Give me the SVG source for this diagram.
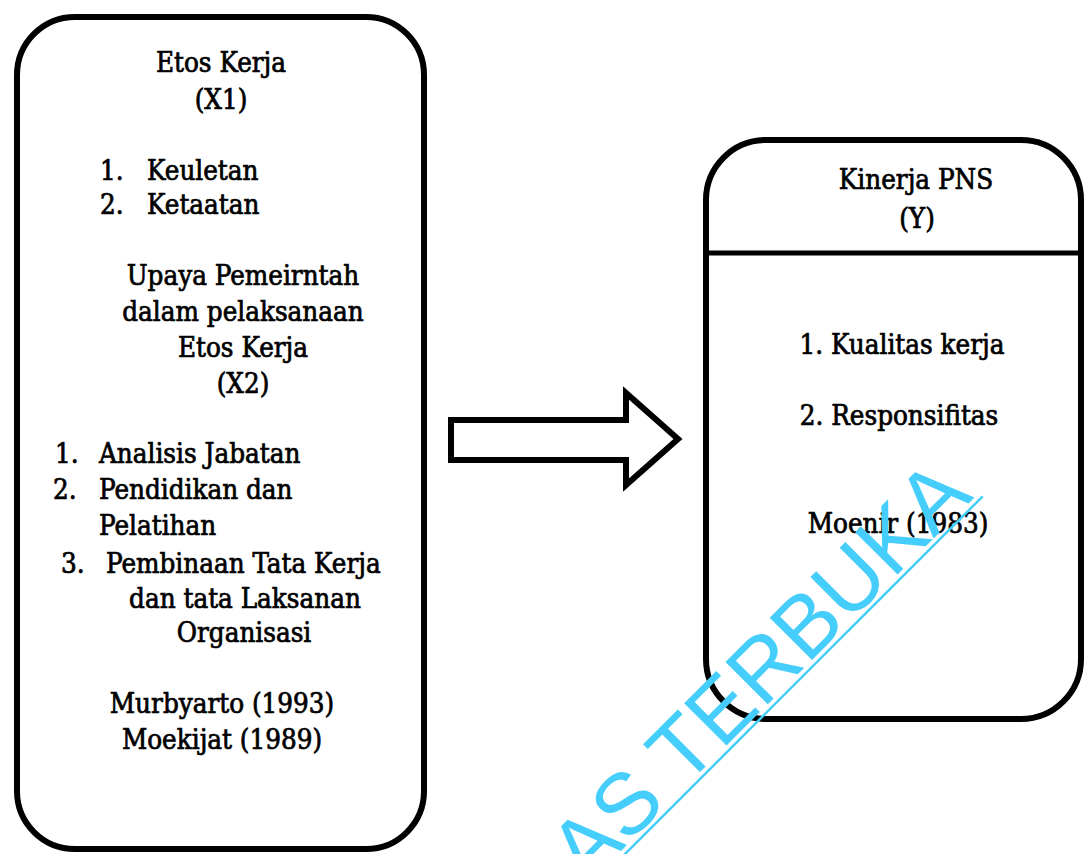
<svg xmlns="http://www.w3.org/2000/svg" width="1085" height="854" viewBox="0 0 1085 854">
<style>
.box{fill:none;stroke:#000;stroke-width:6}
.t{font-family:"DejaVu Serif Condensed","DejaVu Serif",serif;font-stretch:condensed;font-size:27.5px;fill:#000;stroke:#000;stroke-width:0.7}
.c{text-anchor:middle}
.wm{font-family:"Liberation Sans",Arial,sans-serif;font-size:87px;fill:#45cdfb}
</style>
<rect width="1085" height="854" fill="#fff"/>
<g id="node-x">
<rect class="box" x="17" y="17" width="407" height="832" rx="58" ry="58"/>
<text class="t c" x="221" y="72">Etos Kerja</text>
<text class="t c" x="221" y="109">(X1)</text>
<text class="t" x="100" y="180">1.</text><text class="t" x="147" y="180">Keuletan</text>
<text class="t" x="100" y="214">2.</text><text class="t" x="147" y="214">Ketaatan</text>
<text class="t c" x="243" y="285">Upaya Pemeirntah</text>
<text class="t c" x="243" y="321">dalam pelaksanaan</text>
<text class="t c" x="243" y="357">Etos Kerja</text>
<text class="t c" x="243" y="393">(X2)</text>
<text class="t" x="55" y="463">1.</text><text class="t" x="99" y="463">Analisis Jabatan</text>
<text class="t" x="53" y="499">2.</text><text class="t" x="99" y="499">Pendidikan dan</text>
<text class="t" x="99" y="535">Pelatihan</text>
<text class="t" x="61" y="573">3.</text><text class="t" x="106" y="573">Pembinaan Tata Kerja</text>
<text class="t c" x="245" y="608">dan tata Laksanan</text>
<text class="t c" x="244" y="642">Organisasi</text>
<text class="t c" x="222" y="713">Murbyarto (1993)</text>
<text class="t c" x="222" y="749">Moekijat (1989)</text>
</g>
<g id="node-y">
<rect class="box" x="706" y="140" width="375" height="579" rx="60" ry="60"/>
<line x1="706" y1="253" x2="1081" y2="253" stroke="#000" stroke-width="5"/>
<text class="t c" x="916" y="189">Kinerja PNS</text>
<text class="t c" x="917" y="228">(Y)</text>
<text class="t c" x="902" y="354">1. Kualitas kerja</text>
<text class="t c" x="899" y="425">2. Responsifitas</text>
<text class="t c" x="898" y="533">Moenir (1983)</text>
</g>
<g id="connectors">
<polygon points="451,420 626,420 626,393 678,439 626,485 626,460 451,460" fill="#fff" stroke="#000" stroke-width="6" stroke-linejoin="miter"/>
</g>
<g id="watermark" transform="translate(586,886) rotate(-45)">
<text class="wm" x="0" y="0">AS TERBUKA</text>
<line x1="-120" y1="5" x2="556" y2="5" stroke="#45cdfb" stroke-width="2.5"/>
</g>
</svg>
